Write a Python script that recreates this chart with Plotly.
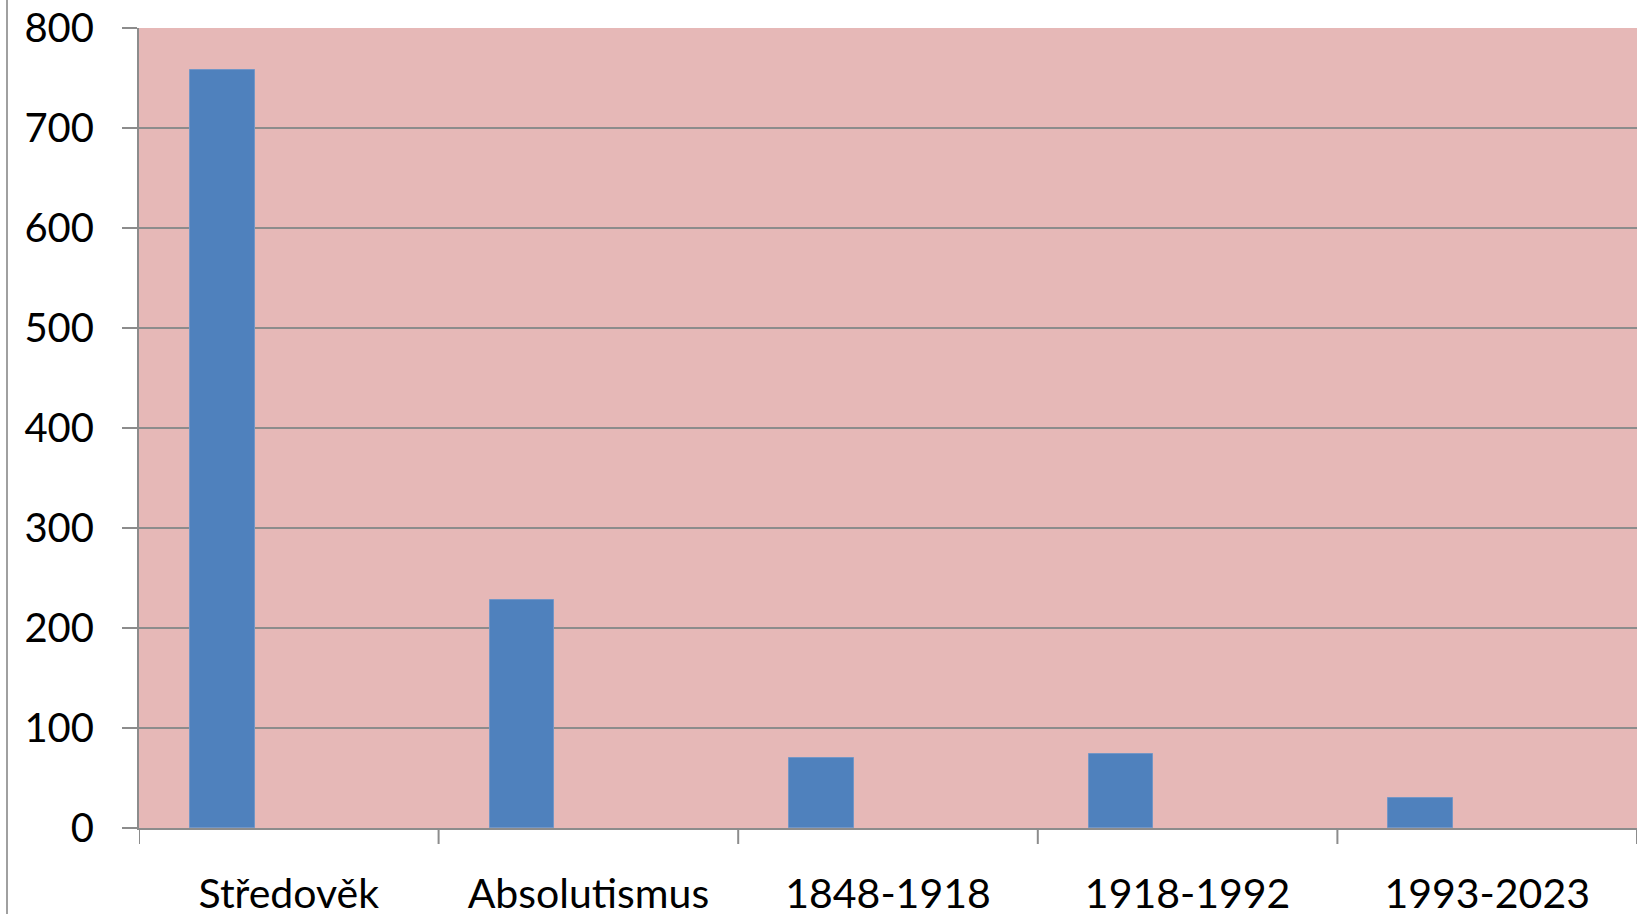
import plotly.graph_objects as go

categories = ["Středověk", "Absolutismus", "1848-1918", "1918-1992", "1993-2023"]
values = [758, 228, 70, 74, 30]
y_ticks = [0, 100, 200, 300, 400, 500, 600, 700, 800]

W, H = 1642, 914
ml, mr, mt, mb = 139, 5, 28, 86

fig = go.Figure()
fig.add_trace(go.Bar(
    x=list(range(len(categories))),
    y=values,
    width=0.216,
    offset=-0.33,
    marker=dict(color="#4F81BD", line=dict(color="#7396C6", width=1)),
    showlegend=False,
))

axis_col = "#8C8C8C"
font = dict(family="Lato, Carlito, 'Open Sans', sans-serif", size=40, color="black")
xfont = dict(family="Lato, Carlito, 'Open Sans', sans-serif", size=41, color="black")

fig.update_layout(
    width=W, height=H,
    margin=dict(l=ml, r=mr, t=mt, b=mb, pad=0, autoexpand=False),
    paper_bgcolor="white",
    plot_bgcolor="#E6B8B7",
    font=font,
    bargap=0,
    xaxis=dict(
        type="linear",
        range=[-0.5, len(categories) - 0.5],
        tickmode="array",
        tickvals=list(range(len(categories))),
        ticktext=categories,
        ticks="",
        showgrid=False,
        showline=True, linecolor=axis_col, linewidth=2,
        zeroline=False,
        ticklabelstandoff=29,
        tickfont=xfont,
        automargin=False,
    ),
    yaxis=dict(
        range=[0, 800],
        tickmode="array",
        tickvals=y_ticks,
        ticktext=[str(v) for v in y_ticks],
        ticks="outside", ticklen=15, tickwidth=2, tickcolor=axis_col,
        showgrid=True, gridcolor=axis_col, gridwidth=2,
        showline=True, linecolor=axis_col, linewidth=2,
        zeroline=False,
        ticklabelstandoff=20,
        tickfont=font,
        automargin=False,
    ),
)

# category boundary ticks on the x axis
boundaries = [i - 0.5 for i in range(len(categories) + 1)]
for b in boundaries:
    fig.add_shape(type="line", xref="x", yref="paper", x0=b, x1=b,
                  y0=0, y1=-16 / (H - mt - mb),
                  line=dict(color=axis_col, width=2))

# thin vertical border line on the far left of the picture
px = 7
xp = (px - ml) / (W - ml - mr)
fig.add_shape(type="line", xref="paper", yref="paper", x0=xp, x1=xp,
              y0=(H - mb - H) / (H - mt - mb), y1=(H - mb) / (H - mt - mb),
              line=dict(color="#A0A0A0", width=2))

fig.write_html(
    "out.html",
    config={"displayModeBar": False},
    post_script="document.body.style.margin='0';document.body.style.overflow='hidden';",
)
